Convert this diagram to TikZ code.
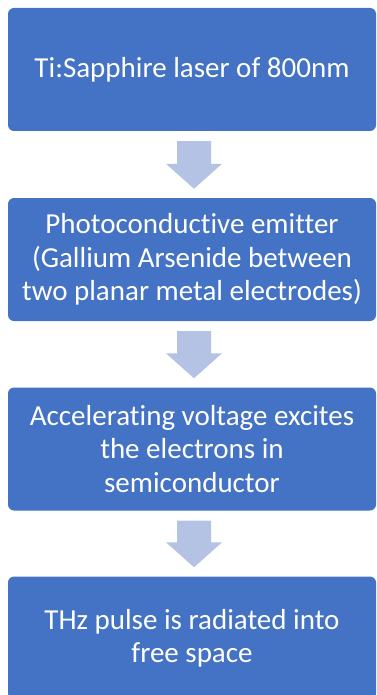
\documentclass[tikz,border=0pt]{standalone}
\usepackage{fontspec}
\setmainfont[Ligatures=NoCommon]{Carlito}
\usetikzlibrary{calc}
\definecolor{boxblue}{HTML}{4472C4}
\definecolor{arrowblue}{HTML}{B4C3E3}
\begin{document}
\begin{tikzpicture}[x=1pt,y=-1pt,
  stepbox/.style={rectangle, fill=boxblue, draw=none, rounded corners=6pt, text=white, align=center,
    font=\fontsize{29}{33.3}\selectfont, inner sep=0pt, minimum width=368pt, minimum height=123pt},
  downarrow/.style={fill=arrowblue, draw=none}]
\useasboundingbox (0,0) rectangle (376,695);
\node[stepbox] (b1) at (192,69.5) {Ti:Sapphire laser of 800nm};
\node[stepbox] (b2) at (192,259.5) {Photoconductive emitter\\(Gallium Arsenide between\\two planar metal electrodes)};
\node[stepbox] (b3) at (192,449) {Accelerating voltage excites\\the electrons in\\semiconductor};
\node[stepbox] (b4) at (192,638) {THz pulse is radiated into\\free space};
\foreach \a/\b in {b1/b2, b2/b3, b3/b4}{
  \fill[downarrow] let \p1=($(\a.south)+(2,10)$), \p2=($(\b.north)+(2,-9)$) in
    (\x1-17,\y1) -- (\x1+17,\y1) -- (\x1+17,\y2+25) -- (\x1+28,\y2+25) -- (\x2,\y2)
    -- (\x1-28,\y2+25) -- (\x1-17,\y2+25) -- cycle;
}
\end{tikzpicture}
\end{document}
